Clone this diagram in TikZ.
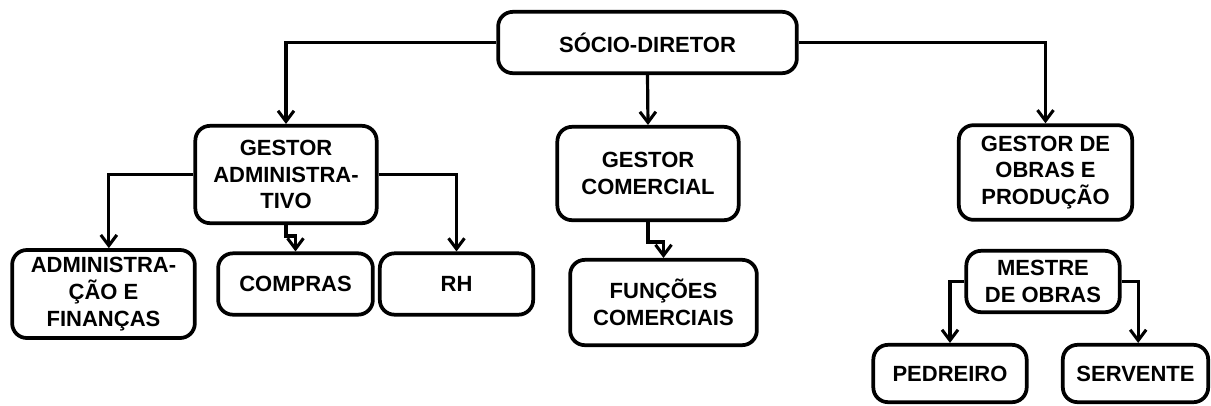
\documentclass[tikz,border=0pt]{standalone}
\usepackage{fontspec}
\setmainfont{Liberation Sans}
\usetikzlibrary{arrows.meta}

\begin{document}
\begin{tikzpicture}[x=0.75pt,y=0.75pt,yscale=-1,
  caixa/.style={draw=black,line width=2.8pt,rounded corners=11pt,align=center,
    inner sep=0pt,font=\fontsize{16.5}{20}\selectfont\bfseries},
  seta/.style={draw=black,line width=2.4pt,-{Straight Barb[length=8pt,width=12pt,line width=2.3pt]}}]

\useasboundingbox (0,0) rectangle (1211,405);

%Shape: Rounded Rect [socio]
\node[caixa,minimum width=224pt,minimum height=46pt] (socio) at (647.5,42.5) {SÓCIO-DIRETOR};
%Shape: Rounded Rect [gestor adm]
\node[caixa,minimum width=136pt,minimum height=73pt] (gadm) at (286,174.5) {GESTOR\\ADMINISTRA-\\TIVO};
%Shape: Rounded Rect [gestor com]
\node[caixa,minimum width=136pt,minimum height=70pt] (gcom) at (648,173.5) {GESTOR\\COMERCIAL};
%Shape: Rounded Rect [gestor obras]
\node[caixa,minimum width=130pt,minimum height=71pt] (gobras) at (1045.5,172.5) {GESTOR DE\\OBRAS E\\PRODUÇÃO};
%Shape: Rounded Rect [adm e financas]
\node[caixa,minimum width=137pt,minimum height=66pt] (admfin) at (103.5,294) {ADMINISTRA-\\ÇÃO E\\FINANÇAS};
%Shape: Rounded Rect [compras]
\node[caixa,minimum width=116pt,minimum height=46pt] (compras) at (295.5,284) {COMPRAS};
%Shape: Rounded Rect [rh]
\node[caixa,minimum width=115pt,minimum height=46pt] (rh) at (456.5,284) {RH};
%Shape: Rounded Rect [funcoes]
\node[caixa,minimum width=140pt,minimum height=64pt] (funcom) at (663.5,302.5) {FUNÇÕES\\COMERCIAIS};
%Shape: Rounded Rect [mestre]
\node[caixa,minimum width=115pt,minimum height=46pt] (mestre) at (1043,281.5) {MESTRE\\DE OBRAS};
%Shape: Rounded Rect [pedreiro]
\node[caixa,minimum width=115pt,minimum height=43pt] (pedreiro) at (950,373.5) {PEDREIRO};
%Shape: Rounded Rect [servente]
\node[caixa,minimum width=109pt,minimum height=43pt] (servente) at (1135.5,373.5) {SERVENTE};

%Connectors
\draw[seta] (socio.west) -| (gadm.north);
\draw[seta] (socio.south) -- (gcom.north);
\draw[seta] (socio.east) -| (gobras.north);
\draw[seta] (gadm.west) -| ([xshift=4pt]admfin.north);
\draw[seta] (gadm.south) -- ++(0,11) -| (compras.north);
\draw[seta] (gadm.east) -| (rh.north);
\draw[seta] (gcom.south) -- ++(0,20) -| (funcom.north);
\draw[seta] (mestre.west) -| (pedreiro.north);
\draw[seta] (mestre.east) -| ([xshift=2pt]servente.north);

\end{tikzpicture}
\end{document}
